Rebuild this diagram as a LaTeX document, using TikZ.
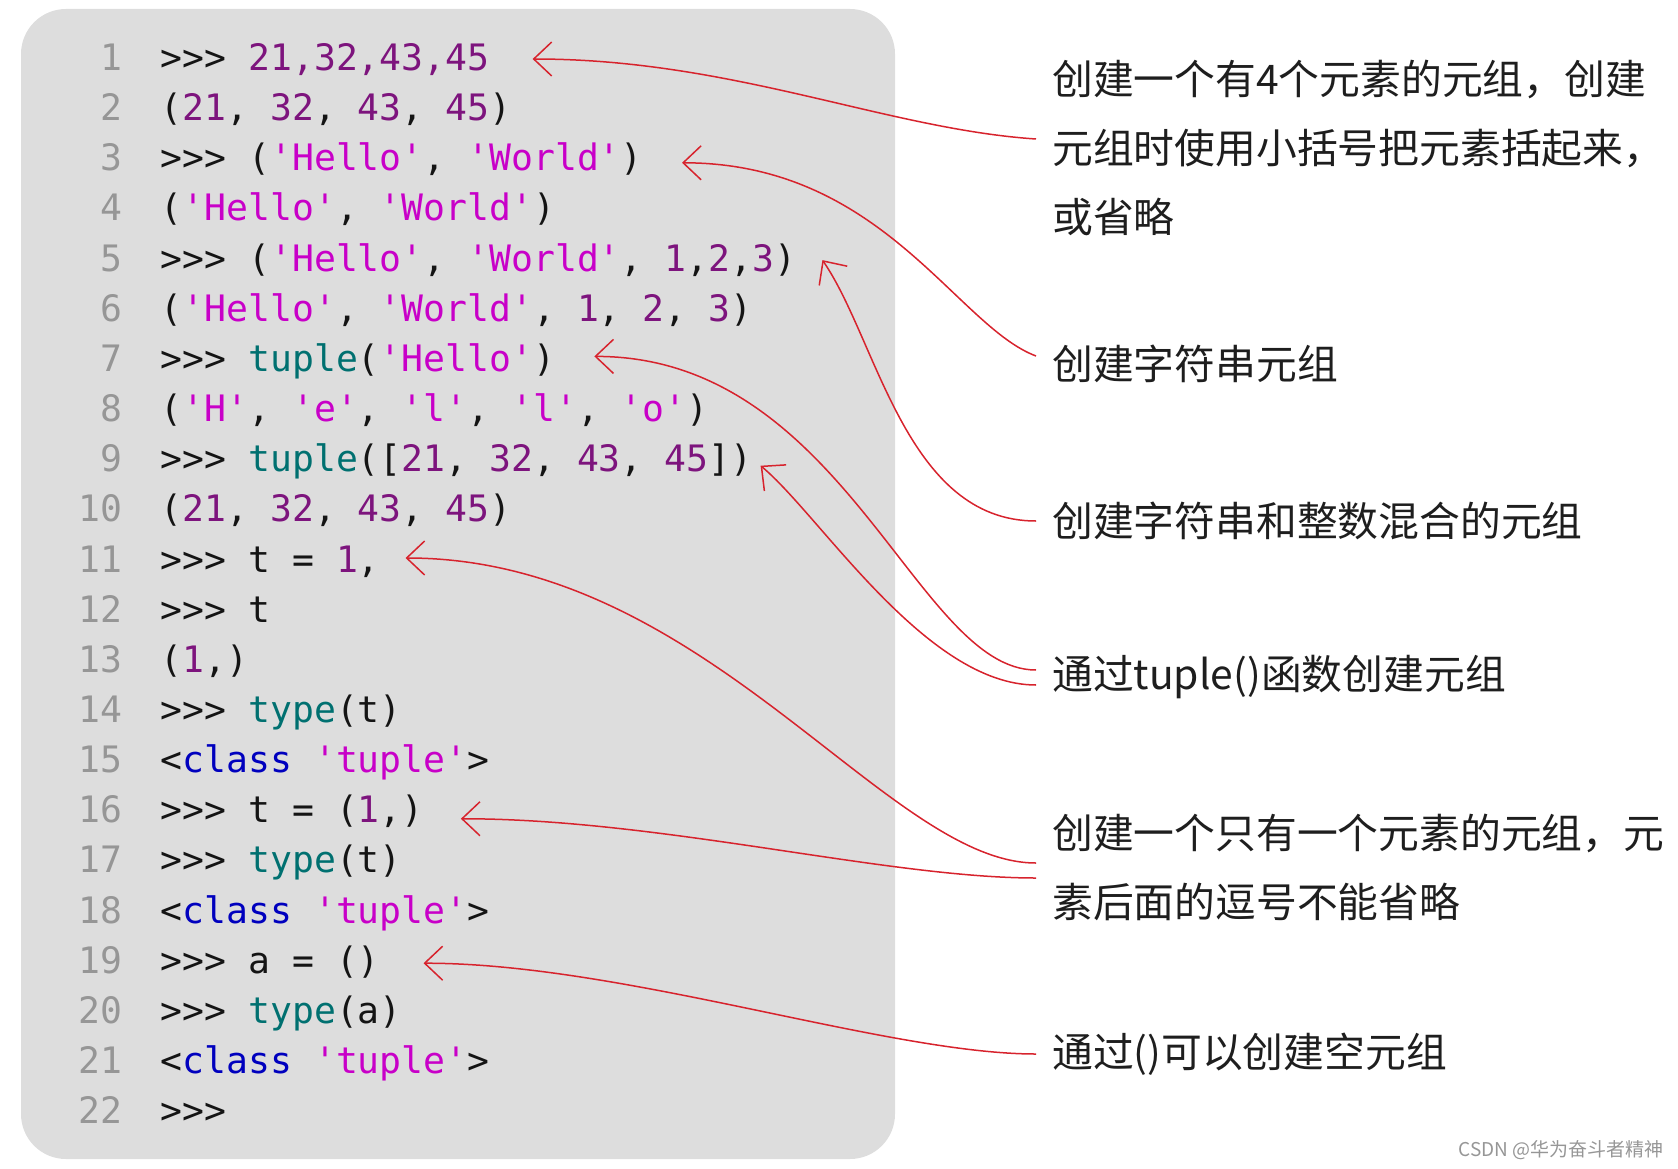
\documentclass[tikz,border=0pt]{standalone}
\usepackage{fontspec}
\usetikzlibrary{arrows.meta, positioning, calc}
\newfontfamily\codefont{DejaVu Sans Mono}
\newfontfamily\cjkfont{Noto Sans CJK SC}
\definecolor{panelgray}{RGB}{221,221,221}
\definecolor{lnogray}{RGB}{150,150,150}
\definecolor{codeblack}{RGB}{20,20,20}
\definecolor{numpurple}{RGB}{125,20,125}
\definecolor{strmagenta}{RGB}{200,0,200}
\definecolor{funteal}{RGB}{0,112,112}
\definecolor{kwblue}{RGB}{0,0,190}
\definecolor{arrowred}{RGB}{215,35,45}
\definecolor{notegray}{RGB}{30,30,30}
\newcommand{\pynum}[1]{\textcolor{numpurple}{#1}}
\newcommand{\pystr}[1]{\textcolor{strmagenta}{#1}}
\newcommand{\pyfun}[1]{\textcolor{funteal}{#1}}
\newcommand{\pykw}[1]{\textcolor{kwblue}{#1}}
\tikzset{
    lineno/.style = {anchor=base east, inner sep=0pt, text=lnogray, font=\codefont\fontsize{36.4}{40}\selectfont},
    codeline/.style = {anchor=base west, inner sep=0pt, text=codeblack, font=\codefont\fontsize{36.4}{40}\selectfont},
    note/.style = {anchor=west, align=left, inner sep=0pt, text=notegray, font=\cjkfont\fontsize{40.8}{69}\selectfont},
    pointer/.style = {draw=arrowred, line width=1.5pt, -{Straight Barb[length=18pt,width=34pt]}}
}
\begin{document}
\begin{tikzpicture}[x=1pt, y=1pt]
  \useasboundingbox (0,0) rectangle (1678,-1169);
  \fill[panelgray, rounded corners=45pt] (21,-9) rectangle (895,-1159);

  % line numbers
  \foreach \i in {1,...,22}
    \node[lineno] (no\i) at (123,{-70.5-50.15*(\i-1)}) {\i};

  % interpreter session
  \node[codeline] (l1) at ([xshift=37.5pt]no1.base east) {>>> \pynum{21,32,43,45}};
  \node[codeline] (l2) at ([xshift=37.5pt]no2.base east) {(\pynum{21}, \pynum{32}, \pynum{43}, \pynum{45})};
  \node[codeline] (l3) at ([xshift=37.5pt]no3.base east) {>>> (\pystr{'Hello'}, \pystr{'World'})};
  \node[codeline] (l4) at ([xshift=37.5pt]no4.base east) {(\pystr{'Hello'}, \pystr{'World'})};
  \node[codeline] (l5) at ([xshift=37.5pt]no5.base east) {>>> (\pystr{'Hello'}, \pystr{'World'}, \pynum{1},\pynum{2},\pynum{3})};
  \node[codeline] (l6) at ([xshift=37.5pt]no6.base east) {(\pystr{'Hello'}, \pystr{'World'}, \pynum{1}, \pynum{2}, \pynum{3})};
  \node[codeline] (l7) at ([xshift=37.5pt]no7.base east) {>>> \pyfun{tuple}(\pystr{'Hello'})};
  \node[codeline] (l8) at ([xshift=37.5pt]no8.base east) {(\pystr{'H'}, \pystr{'e'}, \pystr{'l'}, \pystr{'l'}, \pystr{'o'})};
  \node[codeline] (l9) at ([xshift=37.5pt]no9.base east) {>>> \pyfun{tuple}([\pynum{21}, \pynum{32}, \pynum{43}, \pynum{45}])};
  \node[codeline] (l10) at ([xshift=37.5pt]no10.base east) {(\pynum{21}, \pynum{32}, \pynum{43}, \pynum{45})};
  \node[codeline] (l11) at ([xshift=37.5pt]no11.base east) {>>> t = \pynum{1},};
  \node[codeline] (l12) at ([xshift=37.5pt]no12.base east) {>>> t};
  \node[codeline] (l13) at ([xshift=37.5pt]no13.base east) {(\pynum{1},)};
  \node[codeline] (l14) at ([xshift=37.5pt]no14.base east) {>>> \pyfun{type}(t)};
  \node[codeline] (l15) at ([xshift=37.5pt]no15.base east) {<\pykw{class} \pystr{'tuple'}>};
  \node[codeline] (l16) at ([xshift=37.5pt]no16.base east) {>>> t = (\pynum{1},)};
  \node[codeline] (l17) at ([xshift=37.5pt]no17.base east) {>>> \pyfun{type}(t)};
  \node[codeline] (l18) at ([xshift=37.5pt]no18.base east) {<\pykw{class} \pystr{'tuple'}>};
  \node[codeline] (l19) at ([xshift=37.5pt]no19.base east) {>>> a = ()};
  \node[codeline] (l20) at ([xshift=37.5pt]no20.base east) {>>> \pyfun{type}(a)};
  \node[codeline] (l21) at ([xshift=37.5pt]no21.base east) {<\pykw{class} \pystr{'tuple'}>};
  \node[codeline] (l22) at ([xshift=37.5pt]no22.base east) {>>>};

  % notes
  \node[note] (n1) at (1052,-148) {创建一个有4个元素的元组，创建\\元组时使用小括号把元素括起来，\\或省略};
  \node[note] (n2) at (1052,-364) {创建字符串元组};
  \node[note] (n3) at (1052,-521) {创建字符串和整数混合的元组};
  \node[note] (n4) at (1052,-677) {通过tuple()函数创建元组};
  \node[note] (n5) at (1052,-867.5) {创建一个只有一个元素的元组，元\\素后面的逗号不能省略};
  \node[note] (n6) at (1052,-1054) {通过()可以创建空元组};
  \node[anchor=east, inner sep=0pt, text=lnogray, font=\cjkfont\fontsize{19}{22}\selectfont] (mark) at (1664,-1150) {CSDN @华为奋斗者精神};

  % pointers
  \draw[pointer] ([shift={(-16,9)}]n1.west) .. controls +(-150,10) and +(200,0) .. ([shift={(43,11.5)}]l1.base east);
  \draw[pointer] ([shift={(-16,8)}]n2.west) .. controls +(-80,30) and +(200,0) .. ([shift={(39,8)}]l3.base east);
  \draw[pointer] ([shift={(-16,0)}]n3.west) .. controls +(-130,0) and +(55,-80) .. ([shift={(26,11)}]l5.base east);
  \draw[pointer] ([shift={(-16,7)}]n4.west) .. controls +(-120,0) and +(250,0) .. ([shift={(39,15)}]l7.base east);
  \draw[pointer] ([shift={(-16,-8)}]n4.west) .. controls +(-110,0) and +(60,-50) .. ([shift={(8,6)}]l9.base east);
  \draw[pointer] ([shift={(-16,4.5)}]n5.west) .. controls +(-150,0) and +(300,0) .. ([shift={(25.5,14)}]l11.base east);
  \draw[pointer] ([shift={(-16,-10.5)}]n5.west) .. controls +(-150,0) and +(200,0) .. ([shift={(37,4)}]l16.base east);
  \draw[pointer] ([shift={(-16,0)}]n6.west) .. controls +(-150,0) and +(200,0) .. ([shift={(43.5,10)}]l19.base east);
\end{tikzpicture}
\end{document}
